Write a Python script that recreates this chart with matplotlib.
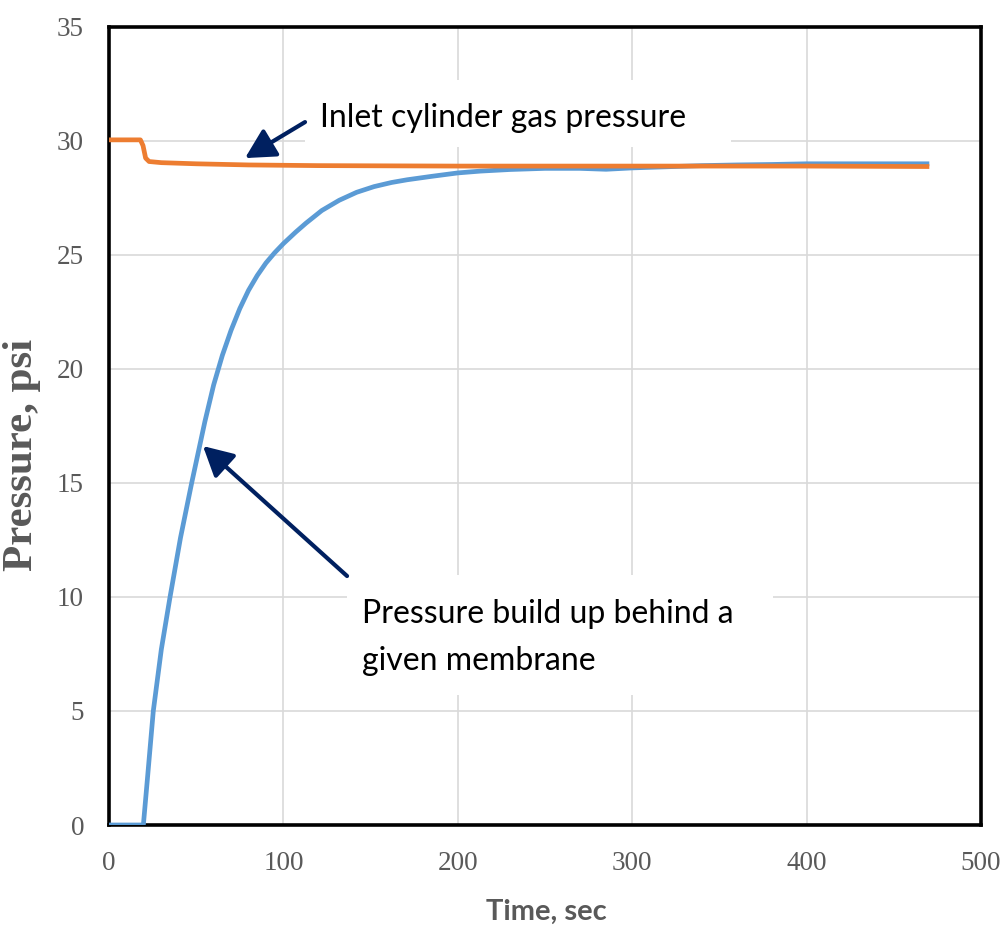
import matplotlib
matplotlib.use("Agg")
import matplotlib.pyplot as plt
from matplotlib.patches import Rectangle

# Values
t_membrane = [0, 19.7, 22, 25.4, 30, 35, 41, 47.4, 55, 60, 65, 70, 75, 80, 85, 90, 95, 100,
              107, 113, 122, 132, 142, 152, 162, 171, 185, 200, 213, 230, 250, 270, 285,
              300, 320, 340, 360, 380, 400, 430, 469]
p_membrane = [0, 0, 2.0, 5.0, 7.7, 10.0, 12.6, 15.0, 17.7, 19.3, 20.6, 21.7, 22.65, 23.45, 24.1,
              24.65, 25.1, 25.5, 26.0, 26.4, 26.95, 27.4, 27.75, 28.0, 28.18, 28.3, 28.45,
              28.6, 28.68, 28.75, 28.8, 28.8, 28.76, 28.82, 28.87, 28.92, 28.95, 28.97, 29.0,
              29.0, 29.0]

t_inlet = [0, 18, 19.5, 21, 23, 30, 50, 80, 120, 200, 300, 400, 469]
p_inlet = [30.05, 30.05, 29.8, 29.25, 29.1, 29.05, 29.0, 28.95, 28.92, 28.9, 28.9, 28.9, 28.88]

x_ticks = [0, 100, 200, 300, 400, 500]
y_ticks = [0, 5, 10, 15, 20, 25, 30, 35]

# Colors / fonts
blue = '#5b9bd5'
orange = '#ed7d31'
navy = '#002060'
gray = '#595959'
sans = ['Lato', 'DejaVu Sans']
serif = ['Liberation Serif', 'DejaVu Serif']

fig = plt.figure(figsize=(10.06, 9.30), dpi=100)
ax = fig.add_axes([109/1006, 1 - 825/930, 872/1006, 798/930])

ax.plot(t_membrane, p_membrane, color=blue, lw=3.4, solid_joinstyle='round', zorder=3)
ax.plot(t_inlet, p_inlet, color=orange, lw=3.4, solid_joinstyle='round', zorder=3)

ax.set_xlim(0, 500)
ax.set_ylim(0, 35)
ax.set_xticks(x_ticks)
ax.set_yticks(y_ticks)
ax.grid(color='#d9d9d9', lw=1.2)
ax.set_axisbelow(True)
ax.tick_params(length=0, labelcolor=gray, labelsize=19.5)
ax.tick_params(axis='x', pad=19)
ax.tick_params(axis='y', pad=18)
for lab in ax.get_xticklabels() + ax.get_yticklabels():
    lab.set_family(serif)
for sp in ax.spines.values():
    sp.set_color('black')
    sp.set_linewidth(2.6)

# white boxes behind the annotation texts
ax.add_patch(Rectangle((112.4, 29.74), 244.5, 2.94, facecolor='white', edgecolor='none', zorder=1.5))
ax.add_patch(Rectangle((136.5, 5.70), 244.3, 5.26, facecolor='white', edgecolor='none', zorder=1.5))

ax.text(121, 30.6, 'Inlet cylinder gas pressure', family=sans, fontsize=23,
        color='black', va='baseline', ha='left', zorder=4)
ax.text(145, 8.86, 'Pressure build up behind a', family=sans, fontsize=23,
        color='black', va='baseline', ha='left', zorder=4)
ax.text(145, 6.80, 'given membrane', family=sans, fontsize=23,
        color='black', va='baseline', ha='left', zorder=4)

arrow = dict(arrowstyle='-|>,head_length=0.6,head_width=0.32', color=navy, lw=3,
             mutation_scale=30, shrinkA=0, shrinkB=0)
ax.annotate('', xy=(78.0, 29.25), xytext=(112.4, 30.83), arrowprops=arrow, zorder=5)
ax.annotate('', xy=(53.9, 16.62), xytext=(136.5, 10.92), arrowprops=arrow, zorder=5)

fig.text(546/1006, 1 - 912/930, 'Time, sec', family=sans, fontsize=21,
         fontweight='bold', color=gray, ha='center', va='center')
fig.text(22/1006, 1 - 455/930, 'Pressure, psi', family=serif, fontsize=31,
         fontweight='bold', color=gray, ha='center', va='center', rotation=90)

fig.savefig('out.png', dpi=100)
